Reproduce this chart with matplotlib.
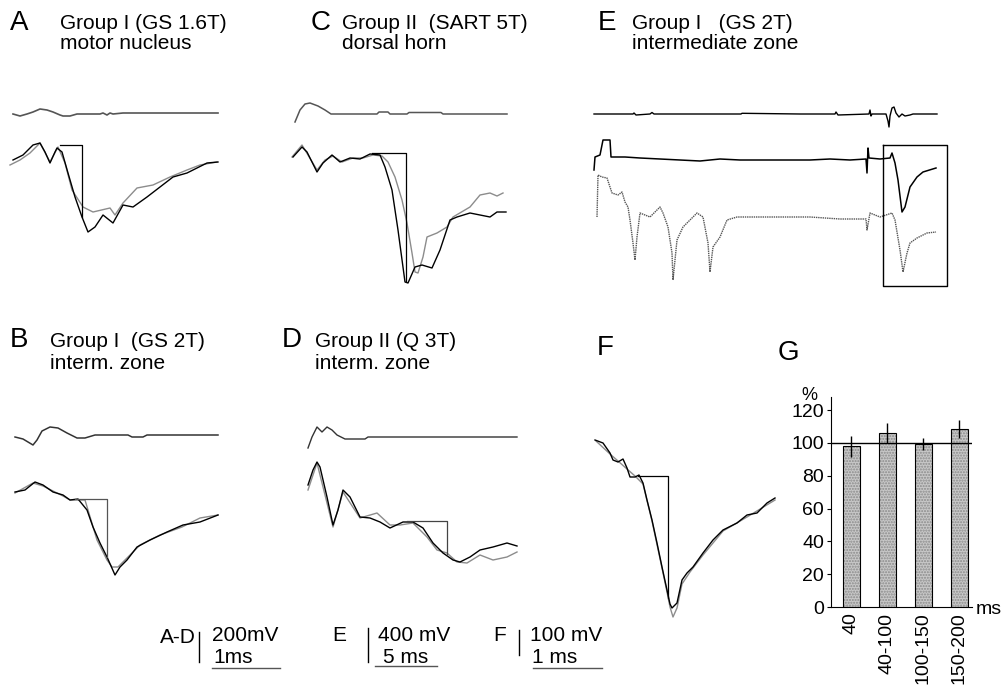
import matplotlib
matplotlib.use("Agg")
import matplotlib.pyplot as plt

W, H = 1008, 685
FONT = "Liberation Sans"

# traces (x to the right, y downwards, image pixels)
# ---- A: Group I (GS 1.6T) motor nucleus
A_top_x = [13, 20, 27, 33, 40, 47, 53, 60, 63, 70, 77, 100, 103, 107, 110, 113, 123, 218]
A_top_y = [114, 116, 114, 112, 109, 110, 112, 115, 116, 116, 114, 114, 113, 115, 113, 114, 113, 113]
A_blk_x = [13, 23, 33, 40, 45, 50, 55, 57, 62, 68, 75, 82, 88, 95, 103, 113, 123, 133, 147, 160, 173, 187, 197, 207, 218]
A_blk_y = [160, 155, 145, 143, 152, 163, 152, 148, 152, 173, 197, 217, 232, 227, 215, 223, 205, 207, 197, 187, 177, 173, 168, 163, 162]
A_gry_x = [10, 20, 30, 40, 50, 58, 65, 72, 83, 93, 110, 115, 123, 137, 153, 170, 187, 200, 217]
A_gry_y = [165, 160, 153, 143, 162, 147, 163, 190, 207, 212, 208, 215, 203, 188, 185, 177, 170, 165, 162]
A_mark_x = [60, 82, 82]
A_mark_y = [145, 145, 217]

# ---- B: Group I (GS 2T) interm. zone
B_top_x = [15, 23, 33, 37, 42, 50, 58, 67, 77, 85, 95, 128, 132, 143, 147, 218]
B_top_y = [437, 439, 445, 440, 431, 427, 428, 433, 438, 438, 435, 435, 437, 437, 435, 435]
B_blk_x = [15, 25, 35, 43, 53, 63, 70, 78, 87, 93, 100, 107, 115, 120, 127, 137, 150, 167, 183, 200, 218]
B_blk_y = [492, 490, 482, 485, 492, 495, 500, 499, 510, 527, 543, 557, 575, 567, 560, 547, 540, 532, 525, 522, 515]
B_gry_x = [15, 33, 43, 53, 63, 70, 85, 97, 107, 112, 118, 127, 140, 160, 182, 200, 218]
B_gry_y = [493, 483, 486, 491, 496, 500, 500, 540, 560, 567, 567, 558, 545, 535, 527, 518, 515]
B_mark_x = [75, 107, 107]
B_mark_y = [499, 499, 557]

# ---- C: Group II (SART 5T) dorsal horn
C_top_x = [295, 300, 305, 310, 318, 325, 331, 377, 379, 388, 390, 407, 409, 441, 443, 507]
C_top_y = [122, 110, 104, 103, 106, 110, 114, 114, 112, 112, 114, 114, 112.5, 112.5, 114, 114]
C_blk_x = [293, 302, 307, 317, 323, 332, 340, 350, 360, 370, 380, 385, 392, 398, 405, 408, 415, 422, 432, 440, 450, 457, 470, 480, 490, 497, 506]
C_blk_y = [157, 147, 152, 172, 163, 155, 162, 158, 159, 154, 155, 167, 190, 230, 282, 283, 267, 265, 268, 250, 220, 217, 213, 215, 217, 212, 212]
C_gry_x = [292, 302, 308, 317, 325, 333, 342, 353, 363, 373, 382, 388, 395, 402, 407, 412, 415, 418, 423, 427, 437, 447, 453, 470, 480, 490, 497, 503]
C_gry_y = [157, 145, 155, 170, 160, 156, 162, 158, 158, 155, 156, 162, 177, 200, 223, 253, 272, 273, 257, 237, 233, 227, 217, 207, 195, 193, 196, 193]
C_mark_x = [372, 406, 406]
C_mark_y = [153, 153, 281]

# ---- D: Group II (Q 3T) interm. zone
D_top_x = [308, 312, 317, 322, 327, 332, 337, 345, 365, 368, 517]
D_top_y = [448, 437, 427, 432, 427, 430, 435, 439, 439, 437, 437]
D_blk_x = [308, 313, 317, 320, 327, 333, 338, 343, 350, 360, 370, 380, 390, 403, 413, 423, 433, 443, 453, 460, 470, 480, 493, 507, 517]
D_blk_y = [485, 470, 462, 467, 497, 525, 510, 490, 497, 517, 518, 522, 528, 522, 522, 528, 543, 553, 560, 562, 557, 550, 547, 543, 546]
D_gry_x = [308, 317, 333, 343, 360, 377, 390, 400, 413, 427, 437, 447, 457, 467, 480, 493, 507, 517]
D_gry_y = [490, 463, 527, 492, 518, 513, 525, 525, 523, 537, 550, 553, 562, 563, 555, 560, 557, 552]
D_mark_x = [407, 447, 447]
D_mark_y = [521, 521, 555]

# ---- E: Group I (GS 2T) intermediate zone
E_top_x = [594, 633, 634, 636, 650, 652, 654, 741, 742, 800, 835, 836, 838, 869, 870, 871, 872,
           886, 888, 889, 890, 892, 894, 896, 899, 902, 905, 910, 913, 937]
E_top_y = [114, 114, 113, 115, 114, 112.5, 114, 114, 113.3, 114, 114, 112, 115, 114, 110, 116, 114,
           114, 121, 127, 116, 108, 107, 113, 117, 114, 116, 115, 114, 114]
E_mid_x = [594, 595, 600, 603, 610, 611, 625, 640, 660, 680, 700, 720, 740, 810, 830, 850, 866,
           867, 868, 869, 880, 890, 892, 895, 898, 902, 905, 910, 917, 923, 936]
E_mid_y = [170, 157, 155, 140, 140, 157, 157, 158, 159, 160, 161, 159, 160, 160, 159, 160, 159,
           173, 148, 158, 159, 158, 153, 163, 180, 212, 207, 187, 177, 172, 168]
E_low_x = [597, 598, 602, 607, 612, 618, 622, 625, 628, 630, 633, 635, 637, 640, 650, 660, 663,
           668, 672, 673, 677, 683, 697, 703, 708, 710, 713, 720, 727, 737, 810, 840, 866, 867,
           870, 880, 892, 895, 900, 903, 907, 910, 917, 927, 936]
E_low_y = [217, 175, 177, 178, 193, 195, 192, 202, 207, 220, 243, 260, 237, 213, 217, 207, 213,
           227, 253, 280, 240, 227, 213, 217, 243, 272, 247, 237, 220, 217, 217, 219, 219, 230,
           213, 217, 213, 220, 250, 272, 253, 243, 238, 233, 232]
E_box_x = [883, 947, 947, 883, 883]
E_box_y = [145, 145, 286, 286, 145]

# ---- F: averaged records
F_blk_x = [595, 603, 610, 613, 618, 623, 627, 630, 635, 639, 643, 647, 652, 657, 662, 667, 670,
           672, 677, 682, 687, 693, 703, 713, 723, 737, 747, 757, 767, 775]
F_blk_y = [440, 443, 453, 460, 462, 459, 468, 477, 477, 475, 483, 500, 520, 543, 567, 590, 604,
           608, 603, 580, 573, 567, 553, 540, 530, 523, 515, 513, 503, 498]
F_gry_x = [596, 610, 618, 627, 635, 643, 652, 662, 667, 670, 673, 677, 682, 690, 703, 723, 747, 775]
F_gry_y = [441, 454, 461, 469, 476, 484, 521, 568, 592, 607, 617, 608, 584, 572, 555, 531, 517, 500]
F_mark_x = [638, 668, 668]
F_mark_y = [476, 476, 598]

# ---- G: bar chart
G_bins = ["40", "40-100", "100-150", "150-200"]
G_pct = [98, 106, 99.5, 108.5]
G_err = [6.5, 6, 3.5, 5.5]
G_ticks = [0, 20, 40, 60, 80, 100, 120]

fig = plt.figure(figsize=(W / 100, H / 100), dpi=100)


def canvas(x0, y0, x1, y1):
    ax = fig.add_axes([x0 / W, 1 - y1 / H, (x1 - x0) / W, (y1 - y0) / H])
    ax.set_xlim(x0, x1)
    ax.set_ylim(y1, y0)
    ax.axis("off")
    return ax


def txt(x, y, s, size):
    fig.text(x / W, 1 - y / H, s, fontsize=size, family=FONT, va="baseline")


blk = dict(color="black", lw=1.0)
gry = dict(color="#8c8c8c", lw=1.0)
mark = dict(color="black", lw=0.9)

ax = canvas(0, 90, 240, 250)
ax.plot(A_top_x, A_top_y, color="#555555", lw=1.2)
ax.plot(A_gry_x, A_gry_y, **gry)
ax.plot(A_blk_x, A_blk_y, **blk)
ax.plot(A_mark_x, A_mark_y, **mark)

ax = canvas(0, 415, 240, 590)
ax.plot(B_top_x, B_top_y, color="#333333", lw=1.1)
ax.plot(B_gry_x, B_gry_y, **gry)
ax.plot(B_blk_x, B_blk_y, **blk)
ax.plot(B_mark_x, B_mark_y, color="#555555", lw=0.9)

ax = canvas(280, 90, 520, 300)
ax.plot(C_top_x, C_top_y, color="#555555", lw=1.1)
ax.plot(C_gry_x, C_gry_y, **gry)
ax.plot(C_blk_x, C_blk_y, **blk)
ax.plot(C_mark_x, C_mark_y, **mark)

ax = canvas(290, 415, 530, 590)
ax.plot(D_top_x, D_top_y, color="#333333", lw=1.0)
ax.plot(D_gry_x, D_gry_y, **gry)
ax.plot(D_blk_x, D_blk_y, **blk)
ax.plot(D_mark_x, D_mark_y, color="#444444", lw=0.9)

ax = canvas(585, 90, 960, 295)
ax.plot(E_top_x, E_top_y, color="black", lw=1.0)
ax.plot(E_mid_x, E_mid_y, color="black", lw=1.1)
ax.plot(E_low_x, E_low_y, color="#555555", lw=1.0, ls=(0, (1, 0.6)))
ax.plot(E_box_x, E_box_y, color="black", lw=1.0)

ax = canvas(585, 425, 790, 625)
ax.plot(F_gry_x, F_gry_y, **gry)
ax.plot(F_blk_x, F_blk_y, **blk)
ax.plot(F_mark_x, F_mark_y, **mark)

# scale bars
ax = canvas(140, 620, 620, 680)
ax.plot([199, 199], [632, 662], color="black", lw=1.0)
ax.plot([212, 280], [668, 668], color="#555555", lw=1.0)
ax.plot([368, 368], [628, 662], color="black", lw=1.0)
ax.plot([375, 437], [666, 666], color="#555555", lw=1.0)
ax.plot([519, 519], [630, 655], color="black", lw=1.0)
ax.plot([533, 602], [668, 668], color="#555555", lw=1.0)

# G axes
gax = fig.add_axes([831 / W, 1 - 607 / H, (972 - 831) / W, (607 - 397) / H])
pos = list(range(len(G_bins)))
gax.bar(pos, G_pct, width=0.47, color="#c8c8c8", edgecolor="#8a8a8a", lw=0,
        hatch="......", zorder=2)
gax.bar(pos, G_pct, width=0.47, fill=False, edgecolor="black", lw=0.8, zorder=2)
gax.errorbar(pos, G_pct, yerr=G_err, fmt="none", ecolor="black", elinewidth=1.0,
             capsize=0, zorder=3)
gax.axhline(100, color="black", lw=1.0, zorder=4)
gax.set_xlim(-0.56, 3.36)
gax.set_ylim(0, 128)
gax.set_yticks(G_ticks)
gax.set_yticklabels([str(t) for t in G_ticks], fontsize=14, family=FONT)
gax.set_xticks(pos)
gax.set_xticklabels(G_bins, rotation=90, fontsize=14, family=FONT)
gax.tick_params(axis="y", length=3, width=0.8, pad=2)
gax.tick_params(axis="x", length=0, pad=4)
for s in ("top", "right"):
    gax.spines[s].set_visible(False)
gax.spines["left"].set_linewidth(0.8)
gax.spines["bottom"].set_linewidth(0.8)

# texts
txt(10, 30, "A", 20)
txt(60, 29, "Group I (GS 1.6T)", 15)
txt(60, 49, "motor nucleus", 15)
txt(311, 30, "C", 20)
txt(342, 29, "Group II  (SART 5T)", 15)
txt(342, 49, "dorsal horn", 15)
txt(598, 30, "E", 20)
txt(632, 29, "Group I   (GS 2T)", 15)
txt(632, 49, "intermediate zone", 15)
txt(10, 347, "B", 20)
txt(50, 347, "Group I  (GS 2T)", 15)
txt(50, 369, "interm. zone", 15)
txt(282, 347, "D", 20)
txt(315, 347, "Group II (Q 3T)", 15)
txt(315, 369, "interm. zone", 15)
txt(597, 355, "F", 20)
txt(778, 360, "G", 20)
txt(801, 400, "%", 13)
txt(976, 614, "ms", 14)

txt(160, 643, "A-D", 15)
txt(212, 641, "200mV", 15)
txt(213, 663, "1ms", 15)
txt(332, 641, "E", 15)
txt(378, 641, "400 mV", 15)
txt(383, 663, "5 ms", 15)
txt(493, 641, "F", 15)
txt(530, 641, "100 mV", 15)
txt(532, 663, "1 ms", 15)

fig.savefig("out.png", dpi=100, facecolor="white")
